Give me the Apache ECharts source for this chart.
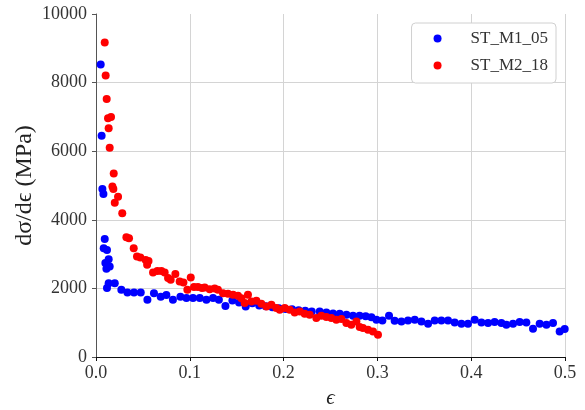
<!DOCTYPE html>
<html><head><meta charset="utf-8">
<script src="https://cdn.jsdelivr.net/npm/echarts@6/dist/echarts.min.js"></script>
<style>html,body{margin:0;padding:0;background:#fff}#c{width:585px;height:410px}</style>
</head><body><div id="c"></div>
<script>
const seriesNames = ['ST_M1_05', 'ST_M2_18'];
const xTicks = [0, 0.1, 0.2, 0.3, 0.4, 0.5];
const yTicks = [0, 2000, 4000, 6000, 8000, 10000];
const blueStrain = [0.005,0.006,0.0068,0.0079,0.0093,0.0082,0.0117,0.0135,0.010,0.0146,0.0111,0.0135,0.020,0.0117,0.027,
 0.0335,0.0405,0.0477,0.0548,0.0618,0.069,0.075,0.082,0.09,0.0964,0.1034,0.1106,0.1177,0.1248,0.131,0.138,0.1454,0.1525,0.1596,0.1667,
 0.174,0.181,0.188,0.195,0.202,0.209,0.216,0.223,0.23,0.2385,0.2456,0.2527,0.2598,0.267,0.274,0.281,0.2875,0.2936,0.299,0.3053,0.3124,
 0.3184,0.3256,0.3326,0.3398,0.3469,0.354,0.3611,0.3682,0.3753,0.3824,0.3896,0.3966,0.4037,0.4109,0.418,0.425,0.4322,0.4375,0.4446,0.4517,0.4588,0.4659,0.473,0.4802,0.4872,0.4943,0.4997];
const blueModulus = [8530,6450,4900,4750,3440,3170,3120,2850,2740,2640,2570,2150,2150,2010,1960,
 1880,1880,1880,1670,1860,1760,1810,1670,1760,1720,1720,1720,1670,1720,1670,1490,1650,1590,1470,1570,
 1500,1480,1450,1420,1400,1390,1360,1350,1330,1330,1300,1270,1260,1230,1200,1200,1190,1160,1085,1065,1200,
 1056,1036,1065,1085,1036,969,1065,1065,1065,1007,969,969,1085,1007,988,1017,988,940,969,1017,1007,823,969,940,988,745,815];
const redStrain = [0.0093,0.0103,0.0114,0.0128,0.016,0.0135,0.0146,0.0189,0.0175,0.0185,0.0235,0.020,0.028,0.0324,0.0352,0.0402,0.0437,0.0473,0.053,0.056,0.0545,
 0.0608,0.0654,0.0697,0.0732,0.0768,0.0796,0.0846,0.0892,0.0932,0.0974,0.101,0.1045,0.1087,0.113,0.1159,0.1212,0.1265,0.13,
 0.1354,0.1407,0.1461,0.1514,0.155,0.162,0.1585,0.1657,0.171,0.1763,0.1817,0.187,0.1923,0.1959,0.2012,0.2065,0.2118,0.2172,0.2225,0.2278,
 0.2349,0.2402,0.2456,0.2509,0.2562,0.2616,0.2669,0.2722,0.2776,0.2811,0.2846,0.29,0.2953,0.3006];
const redModulus = [9170,8210,7520,6960,7000,6670,6100,5350,4970,4900,4670,4500,4190,3490,3460,3170,2930,2900,2830,2800,2690,
 2460,2510,2510,2460,2300,2250,2420,2200,2170,1960,2320,2040,2040,2010,2025,1978,1997,1958,
 1862,1843,1813,1784,1716,1813,1571,1620,1639,1552,1473,1523,1425,1376,1425,1376,1299,1328,1260,1231,
 1134,1202,1163,1134,1085,1105,988,940,1036,872,843,794,746,649];

const font = 'Liberation Serif';
const zip = (a, b) => a.map((v, i) => [v, b[i]]);
const chart = echarts.init(document.getElementById('c'), null, {renderer: 'canvas'});
chart.setOption({
  animation: false,
  backgroundColor: '#fff',
  grid: {left: 96, right: 20, top: 14, bottom: 53, containLabel: false, outerBoundsMode: 'none'},
  xAxis: {
    type: 'value', min: xTicks[0], max: xTicks[xTicks.length - 1], interval: 0.1,
    name: 'ϵ', nameLocation: 'middle', nameGap: 31, nameMoveOverlap: false,
    nameTextStyle: {fontFamily: font, fontSize: 21, fontStyle: 'italic', color: '#222'},
    axisLine: {show: true, lineStyle: {color: '#111', width: 1}},
    axisTick: {show: true, inside: false, length: 4, lineStyle: {color: '#111'}},
    axisLabel: {fontFamily: font, fontSize: 18, color: '#333', margin: 7, showMinLabel: true, hideOverlap: false,
      formatter: v => String(Number(v).toFixed(1))},
    splitLine: {show: true, lineStyle: {color: '#d4d4d4', width: 1}, showMinLine: false}
  },
  yAxis: {
    type: 'value', min: yTicks[0], max: yTicks[yTicks.length - 1], interval: 2000,
    name: 'dσ/dϵ (MPa)', nameLocation: 'middle', nameGap: 59, nameRotate: 90, nameMoveOverlap: false,
    nameTextStyle: {fontFamily: font, fontSize: 24, color: '#222'},
    axisLine: {show: true, lineStyle: {color: '#555', width: 1}},
    axisTick: {show: true, inside: false, length: 4, lineStyle: {color: '#555'}},
    axisLabel: {fontFamily: font, fontSize: 18, color: '#333', margin: 9, formatter: v => String(v)},
    splitLine: {show: true, lineStyle: {color: '#d4d4d4', width: 1}, showMinLine: false, showMaxLine: false}
  },
  legend: {
    right: 29, top: 23, orient: 'vertical',
    backgroundColor: '#fff', borderColor: '#d0d0d0', borderWidth: 1, borderRadius: 4,
    padding: [7, 8, 9, 22], itemGap: 10, itemWidth: 40, itemHeight: 8,
    icon: 'circle',
    textStyle: {fontFamily: font, fontSize: 17, color: '#333', padding: [0, 0, 0, 8]},
    data: seriesNames
  },
  series: [
    {name: seriesNames[0], type: 'scatter', symbolSize: 8, itemStyle: {color: '#0000ff', opacity: 1}, data: zip(blueStrain, blueModulus), z: 2},
    {name: seriesNames[1], type: 'scatter', symbolSize: 8, itemStyle: {color: '#ff0000', opacity: 1}, data: zip(redStrain, redModulus), z: 3}
  ]
});
</script></body></html>
